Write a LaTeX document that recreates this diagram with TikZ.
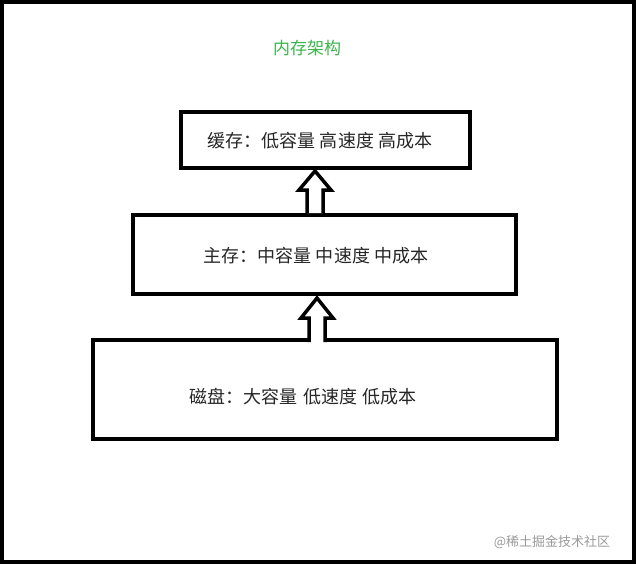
\documentclass[tikz,border=0pt]{standalone}
\usepackage{fontspec}
\newfontfamily\cjk{Noto Sans CJK SC}
\begin{document}
\begin{tikzpicture}[x=1pt,y=-1pt,
  box/.style={draw=black,line width=4pt},
  lbl/.style={font=\cjk\fontsize{18}{20}\selectfont,text=black!85},
  harrow/.style={draw=black,fill=white,line width=3.5pt,line join=miter}]
\useasboundingbox (0,0) rectangle (636,566);
\draw[line width=4pt] (2,2) rectangle (634,562);
\node[font=\cjk\fontsize{17}{19}\selectfont,text={rgb,255:red,60;green,180;blue,75}] (title) at (307,48) {内存架构};
\draw[box] (181,112) rectangle (470,168);
\node[lbl] (cache) at (320,141) {缓存：低容量 高速度 高成本};
\draw[box] (133,215) rectangle (516,294);
\node[lbl] (main) at (316,256) {主存：中容量 中速度 中成本};
\draw[box] (93,340) rectangle (557,439);
\node[lbl] (disk) at (303,397) {磁盘：大容量\,\,低速度 低成本};
\draw[harrow] (307,213) -- (307,190) -- (299,190) -- (315,171) -- (331,190) -- (323,190) -- (323,213);
\draw[harrow] (309,342) -- (309,318) -- (301,318) -- (317,298) -- (333,318) -- (325,318) -- (325,342);
\node[font=\cjk\fontsize{13}{15}\selectfont,text=black!40] (wm) at (552,542) {@稀土掘金技术社区};
\end{tikzpicture}
\end{document}
